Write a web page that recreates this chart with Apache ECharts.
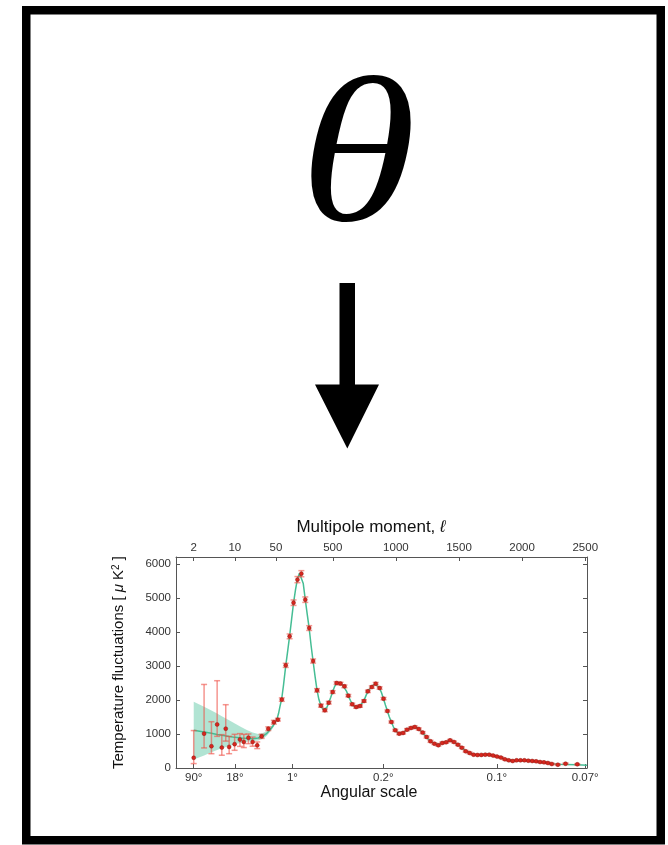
<!DOCTYPE html>
<html><head><meta charset="utf-8">
<script src="https://cdn.jsdelivr.net/npm/echarts@6/dist/echarts.min.js"></script>
<style>html,body{margin:0;padding:0;background:#fff}#c{width:668px;height:845px}</style>
</head><body><div id="c"></div>
<script>
// ---- Data (multipole ell, D_ell in muK^2) ----
// Low-ell points (log part of axis) with asymmetric error bars
const lowEll = [2, 3, 4, 5, 6, 7, 8, 9.9, 12.2, 14.2, 17, 20, 24, 28.5, 37, 46];
const lowD   = [300, 1010, 640, 1280, 600, 1155, 620, 700, 835, 765, 890, 765, 665, 930, 1155, 1345];
const lowLo  = [130, 590, 420, 930, 375, 790, 420, 520, 635, 600, 715, 640, 570, 870, 1100, 1290];
const lowHi  = [1100, 2455, 1360, 2565, 980, 1860, 930, 990, 1010, 990, 1000, 910, 765, 990, 1210, 1400];

// High-ell binned points (linear part of axis)
const highEll = [65, 96, 127, 158, 189, 220, 251, 282, 313, 344, 375, 406, 437, 468, 499, 530, 561, 592, 623, 654,
  685, 716, 747, 778, 809, 840, 871, 902, 933, 964, 995, 1026, 1057, 1088, 1119, 1150, 1181, 1212, 1243, 1274,
  1305, 1336, 1367, 1398, 1429, 1460, 1491, 1522, 1553, 1584, 1615, 1646, 1677, 1708, 1739, 1770, 1801, 1832,
  1863, 1894, 1925, 1956, 1987, 2018, 2049, 2080, 2111, 2142, 2173, 2204, 2235, 2283, 2344, 2437];
const highD = [1420, 2010, 3016, 3868, 4857, 5535, 5709, 4946, 4112, 3143, 2282, 1832, 1695, 1920, 2232, 2497, 2480, 2400, 2126, 1871,
  1792, 1821, 1968, 2253, 2379, 2479, 2350, 2038, 1674, 1351, 1107, 1010, 1030, 1127, 1175, 1205, 1146, 1040, 911, 784,
  716, 667, 735, 755, 813, 764, 686, 598, 490, 441, 392, 382, 385, 393, 393, 364, 335, 305,
  255, 225, 206, 225, 225, 225, 215, 206, 196, 176, 166, 147, 118, 98, 127, 108];
const highErr = [40, 50, 60, 70, 80, 90, 90, 80, 70, 60, 50, 45, 40, 40, 40, 40, 40, 40, 35, 35,
  35, 35, 35, 35, 35, 35, 35, 35, 30, 30, 30, 30, 30, 30, 30, 30, 30, 30, 30, 30,
  25, 25, 25, 25, 25, 25, 25, 25, 25, 25, 20, 20, 20, 20, 20, 20, 20, 20,
  20, 20, 20, 20, 20, 20, 20, 20, 20, 20, 20, 20, 20, 20, 20, 20];

// Best-fit model curve
const theoryLowEll = [2, 3, 4, 5, 6, 8, 10, 13, 16, 20, 25, 30, 35, 40, 45, 50];
const theoryLowD   = [1110, 1060, 1020, 985, 960, 925, 900, 880, 865, 860, 880, 940, 1020, 1130, 1250, 1380];
const theoryHighEll = [50, 60, 70, 80, 96, 110, 127, 143, 158, 174, 189, 205, 220, 236, 251, 266, 282, 297, 313, 328,
  344, 360, 375, 390, 406, 422, 437, 452, 468, 484, 499, 515, 530, 546, 561, 577, 592, 608, 623, 639,
  654, 670, 685, 700, 716, 731, 747, 762, 778, 793, 809, 824, 840, 855, 871, 886, 902, 917, 933, 948,
  964, 980, 995, 1010, 1026, 1041, 1057, 1072, 1088, 1104, 1119, 1135, 1150, 1166, 1181, 1197, 1212, 1228, 1243, 1258,
  1274, 1290, 1305, 1320, 1336, 1352, 1367, 1383, 1398, 1414, 1429, 1445, 1460, 1476, 1491, 1507, 1522, 1538, 1553, 1569,
  1584, 1600, 1615, 1646, 1677, 1708, 1739, 1770, 1801, 1832, 1863, 1894, 1925, 1956, 1987, 2018, 2049, 2080, 2111, 2142,
  2173, 2204, 2235, 2283, 2344, 2437, 2514];
const theoryHighD = [1380, 1470, 1600, 1780, 2050, 2450, 3000, 3450, 3880, 4380, 4850, 5250, 5560, 5720, 5710, 5420, 4950, 4530, 4100, 3600,
  3130, 2680, 2290, 2010, 1830, 1720, 1700, 1770, 1920, 2080, 2240, 2400, 2490, 2510, 2480, 2440, 2390, 2260, 2120, 1990,
  1880, 1810, 1790, 1800, 1830, 1900, 1980, 2120, 2250, 2330, 2390, 2450, 2460, 2420, 2340, 2210, 2030, 1850, 1670, 1500,
  1350, 1210, 1110, 1050, 1020, 1020, 1040, 1080, 1120, 1160, 1185, 1200, 1200, 1180, 1140, 1090, 1030, 970, 905, 840,
  785, 745, 715, 700, 700, 715, 735, 760, 780, 790, 795, 785, 760, 725, 685, 640, 595, 545, 500, 465,
  440, 415, 400, 385, 385, 390, 385, 365, 335, 300, 262, 232, 218, 218, 222, 222, 215, 205, 193, 178,
  163, 145, 125, 110, 105, 95, 80];

// Cosmic-variance band (low ell)
const bandEll = [2, 3, 4, 5, 6, 8, 10, 13, 16, 20, 25, 30, 35, 40, 45, 50];
const bandLo  = [250, 370, 460, 530, 580, 650, 700, 740, 770, 790, 810, 860, 950, 1070, 1190, 1330];
const bandHi  = [1950, 1800, 1690, 1600, 1520, 1400, 1310, 1200, 1120, 1040, 1000, 1030, 1090, 1190, 1310, 1430];

// Tick positions / labels
const multipoleTicks = [2, 10, 50, 500, 1000, 1500, 2000, 2500];
const angleTicks = [2, 10, 180, 900, 1800, 2500];
const angleLabels = ['90°', '18°', '1°', '0.2°', '0.1°', '0.07°'];
const yTicks = [0, 1000, 2000, 3000, 4000, 5000, 6000];

// ---- Style constants ----
const FONT = 'Liberation Sans';
const FRAME = '#555';
const LINE_C = '#45bd94';
const PT_C = '#d7261e';
const ERR_C = 'rgba(238,80,70,0.6)';
const BAND_C = 'rgba(70,190,150,0.42)';
const SPLIT = 50;

function near(a, b) { return Math.abs(a - b) <= 1e-3 * Math.max(1, Math.abs(b)); }
function labelFrom(ticks, labels) {
  return function (v) { for (let i = 0; i < ticks.length; i++) if (near(v, ticks[i])) return labels[i]; return ''; };
}
const lowMult = multipoleTicks.filter(t => t < SPLIT), highMult = multipoleTicks.filter(t => t >= SPLIT);
const lowAng = angleTicks.filter(t => t < SPLIT), highAng = angleTicks.filter(t => t >= SPLIT);
const multFmt = labelFrom(multipoleTicks, multipoleTicks.map(String));
const angFmt = labelFrom(angleTicks, angleLabels);

function xAx(gridIndex, type, min, max, position, vals, fmt, margin) {
  return {
    type, gridIndex, min, max, position, logBase: 10,
    axisLine: { show: true, lineStyle: { color: FRAME, width: 1 } },
    axisTick: { show: true, inside: true, length: 4, customValues: vals, lineStyle: { color: FRAME } },
    axisLabel: { show: true, customValues: vals, formatter: fmt, margin, color: '#333', fontFamily: FONT, fontSize: 11.5 },
    splitLine: { show: false }, minorTick: { show: false }
  };
}

const errItem = function (params, api) {
  const x = api.value(0), lo = api.value(1), hi = api.value(2);
  const top = api.coord([x, hi]), bot = api.coord([x, lo]);
  const w = 3;
  const st = { stroke: ERR_C, lineWidth: 1.5 };
  return { type: 'group', children: [
    { type: 'line', shape: { x1: top[0], y1: top[1], x2: bot[0], y2: bot[1] }, style: st },
    { type: 'line', shape: { x1: top[0] - w, y1: top[1], x2: top[0] + w, y2: top[1] }, style: st },
    { type: 'line', shape: { x1: bot[0] - w, y1: bot[1], x2: bot[0] + w, y2: bot[1] }, style: st }
  ]};
};

const option = {
  animation: false,
  backgroundColor: '#fff',
  grid: [
    { left: 176, top: 557, width: 100, height: 211, outerBoundsMode: 'none', containLabel: false },
    { left: 276, top: 557, width: 311, height: 211, outerBoundsMode: 'none', containLabel: false }
  ],
  xAxis: [
    xAx(0, 'log', 1, SPLIT, 'bottom', lowAng, angFmt, 4),
    xAx(0, 'log', 1, SPLIT, 'top', lowMult, multFmt, 3),
    xAx(1, 'value', SPLIT, 2514, 'bottom', highAng, angFmt, 4),
    xAx(1, 'value', SPLIT, 2514, 'top', highMult, multFmt, 3)
  ],
  yAxis: [
    {
      type: 'value', gridIndex: 0, min: 0, max: 6200, position: 'left',
      axisLine: { show: true, lineStyle: { color: FRAME } },
      axisTick: { show: true, inside: true, length: 4, customValues: yTicks, lineStyle: { color: FRAME } },
      axisLabel: { customValues: yTicks, formatter: v => String(Math.round(v)), margin: 5, color: '#333', fontFamily: FONT, fontSize: 11.5 },
      splitLine: { show: false },
      name: 'Temperature fluctuations [ {it|μ} K{sup|2} ]',
      nameLocation: 'middle', nameRotate: 90, nameGap: 50,
      nameTextStyle: { fontFamily: FONT, fontSize: 15, color: '#111',
        rich: { it: { fontFamily: FONT, fontSize: 15, fontStyle: 'italic', color: '#111' },
                sup: { fontFamily: FONT, fontSize: 10, verticalAlign: 'top', color: '#111' } } }
    },
    {
      type: 'value', gridIndex: 1, min: 0, max: 6200, position: 'right',
      axisLine: { show: true, lineStyle: { color: FRAME } },
      axisTick: { show: true, inside: true, length: 4, customValues: yTicks, lineStyle: { color: FRAME } },
      axisLabel: { show: false },
      splitLine: { show: false }
    }
  ],
  series: [
    {
      type: 'custom', xAxisIndex: 0, yAxisIndex: 0, clip: true, z: 1,
      data: bandEll.map((l, i) => [l, bandLo[i], bandHi[i]]),
      renderItem: function (params, api) {
        if (params.dataIndex !== 0) return null;
        const pts = [];
        for (let i = 0; i < bandEll.length; i++) pts.push(api.coord([bandEll[i], bandHi[i]]));
        for (let i = bandEll.length - 1; i >= 0; i--) pts.push(api.coord([bandEll[i], bandLo[i]]));
        return { type: 'polygon', shape: { points: pts }, style: { fill: BAND_C, stroke: null } };
      }
    },
    {
      type: 'line', xAxisIndex: 0, yAxisIndex: 0, showSymbol: false, z: 2,
      data: theoryLowEll.map((l, i) => [l, theoryLowD[i]]),
      lineStyle: { color: LINE_C, width: 1.5 }
    },
    {
      type: 'line', xAxisIndex: 2, yAxisIndex: 1, showSymbol: false, z: 2,
      data: theoryHighEll.map((l, i) => [l, theoryHighD[i]]),
      lineStyle: { color: LINE_C, width: 1.5 }
    },
    {
      type: 'custom', xAxisIndex: 0, yAxisIndex: 0, z: 3,
      data: lowEll.map((l, i) => [l, lowLo[i], lowHi[i]]),
      renderItem: errItem
    },
    {
      type: 'custom', xAxisIndex: 2, yAxisIndex: 1, z: 3,
      data: highEll.map((l, i) => [l, highD[i] - highErr[i], highD[i] + highErr[i]]),
      renderItem: errItem
    },
    {
      type: 'scatter', xAxisIndex: 0, yAxisIndex: 0, z: 4, symbolSize: 4,
      data: lowEll.map((l, i) => [l, lowD[i]]),
      itemStyle: { color: PT_C, borderColor: '#7a1008', borderWidth: 0.4, opacity: 1 }
    },
    {
      type: 'scatter', xAxisIndex: 2, yAxisIndex: 1, z: 4, symbolSize: 4,
      data: highEll.map((l, i) => [l, highD[i]]),
      itemStyle: { color: PT_C, borderColor: '#7a1008', borderWidth: 0.4, opacity: 1 }
    }
  ],
  graphic: [
    { type: 'rect', z: 100, shape: { x: 26.25, y: 10.25, width: 634.5, height: 830 },
      style: { fill: null, stroke: '#000', lineWidth: 8.5 } },
    { type: 'text', z: 100, x: 358, y: 165, scaleX: 1.14,
      style: { text: 'θ', font: 'italic 208px "Liberation Serif"', fill: '#000', textAlign: 'center', textVerticalAlign: 'middle' } },
    { type: 'polygon', z: 100,
      shape: { points: [[339.5, 283], [355, 283], [355, 384.5], [379, 384.5], [347.3, 448.5], [315, 384.5], [339.5, 384.5]] },
      style: { fill: '#000' } },
    { type: 'text', z: 100, x: 371, y: 527,
      style: { text: 'Multipole moment, {it|ℓ}', font: '17px "Liberation Sans"', fill: '#111', textAlign: 'center', textVerticalAlign: 'middle',
        rich: { it: { font: 'italic 17px "Liberation Sans"', fill: '#111' } } } },
    { type: 'text', z: 100, x: 369, y: 793,
      style: { text: 'Angular scale', font: '16px "Liberation Sans"', fill: '#111', textAlign: 'center', textVerticalAlign: 'middle' } }
  ]
};

const chart = echarts.init(document.getElementById('c'), null, { renderer: 'canvas', width: 668, height: 845 });
chart.setOption(option);
</script>
</body></html>
